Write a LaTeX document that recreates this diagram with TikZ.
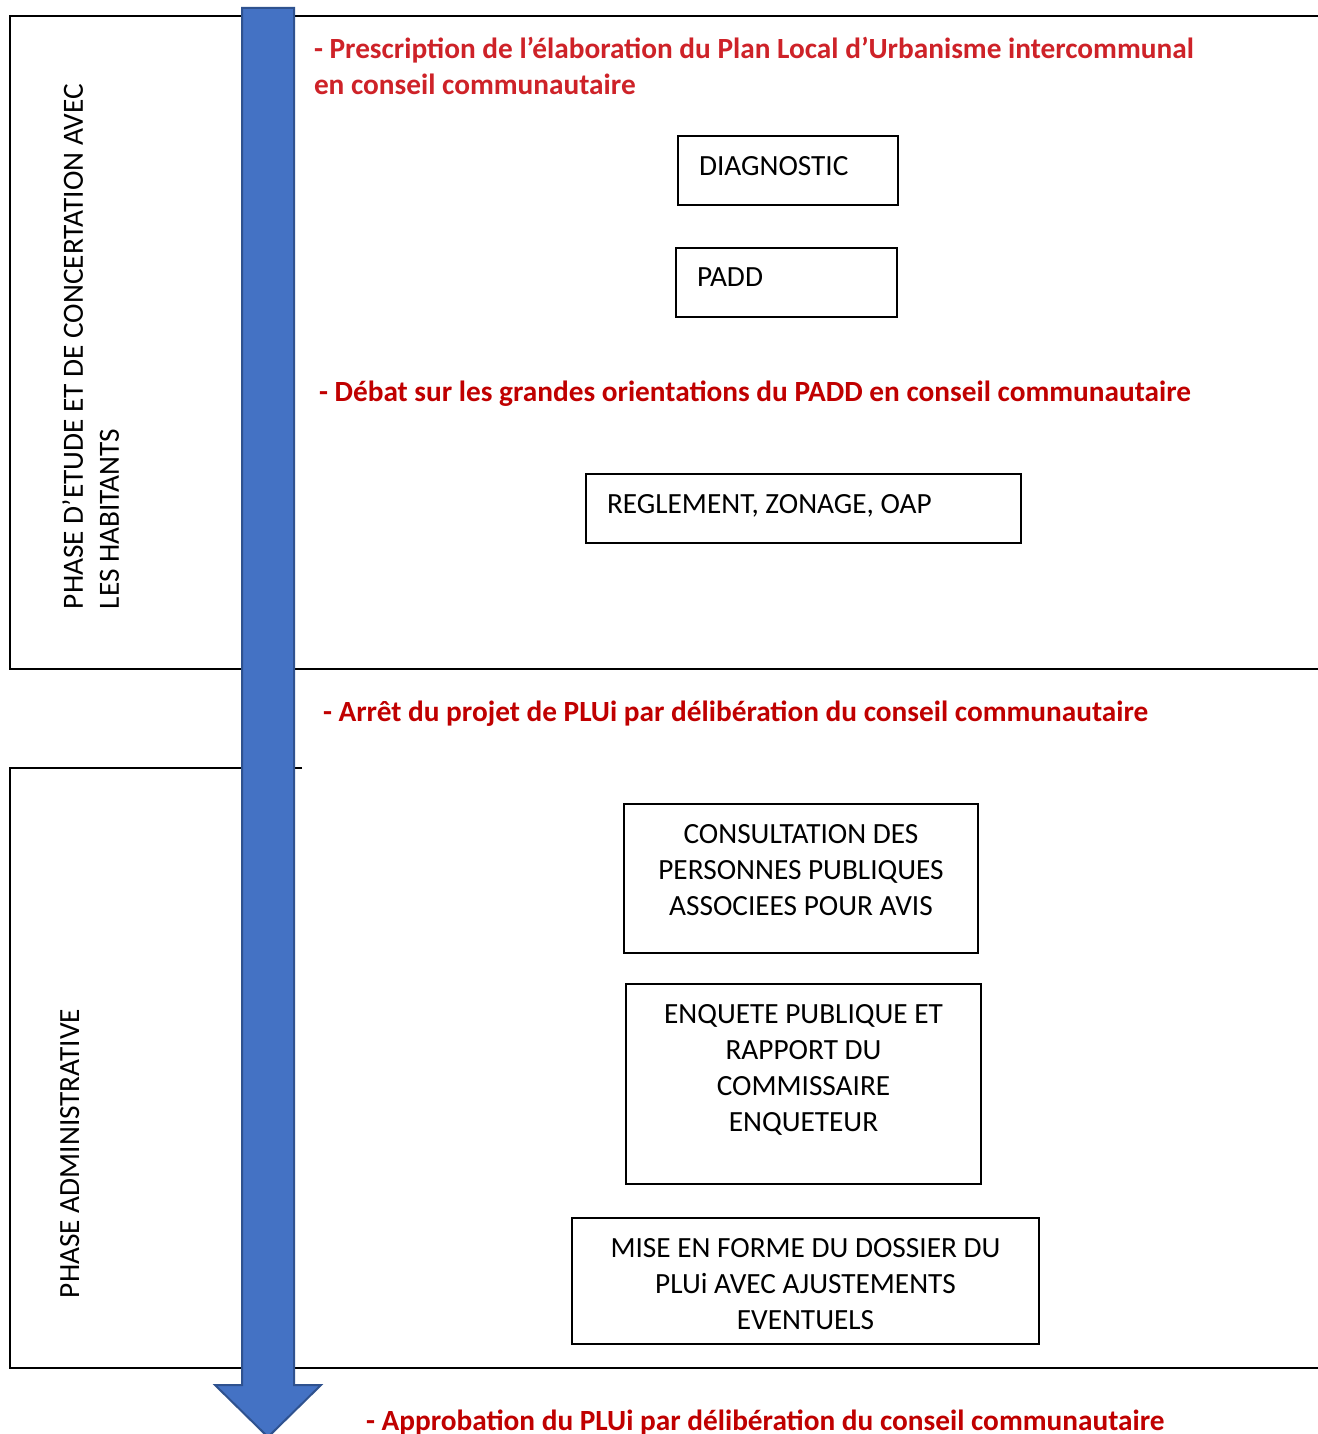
\documentclass[tikz,border=0pt]{standalone}
\usepackage{fontspec}
\setmainfont{Carlito}
\definecolor{arrowfill}{RGB}{68,114,196}
\definecolor{arrowline}{RGB}{47,82,143}
\definecolor{redA}{RGB}{206,34,40}
\definecolor{redB}{RGB}{192,0,0}
\begin{document}
\begin{tikzpicture}[x=1pt,y=-1pt,
  frame/.style={draw=black,line width=2pt},
  box/.style={draw=black,line width=2pt,outer sep=0pt,inner sep=0pt},
  txt/.style={font=\fontsize{29.3}{36}\selectfont,inner sep=0pt,outer sep=0pt,text=black},
  redtxt/.style={font=\fontsize{29.3}{36}\selectfont\bfseries,inner sep=0pt,outer sep=0pt},
  bigarrow/.style={fill=arrowfill,draw=arrowline,line width=2pt,line join=miter}
]
\useasboundingbox (0,0) rectangle (1317,1434);
\fill[white] (0,0) rectangle (1317,1434);

% phase frames
\draw[frame] (1320,16) -- (10,16) -- (10,669) -- (1320,669);
\draw[frame] (302,768) -- (10,768) -- (10,1368) -- (1320,1368);

% big arrow
\draw[bigarrow] (242,8) -- (294,8) -- (294,1385) -- (321,1385) -- (268,1437) -- (215,1385) -- (242,1385) -- cycle;

% phase labels
\node[txt,rotate=90,anchor=south west,align=left] (phase1) at (119,609)
  {PHASE D’ETUDE ET DE CONCERTATION AVEC\\LES HABITANTS};
\node[txt,rotate=90,anchor=base west] (phase2) at (79,1298) {PHASE ADMINISTRATIVE};

% red milestones
\node[redtxt,text=redA,anchor=base west,align=left] (presc) at (314,95)
  {- Prescription de l’élaboration du Plan Local d’Urbanisme intercommunal\\en conseil communautaire};
\node[redtxt,text=redB,anchor=base west] (debat) at (319,401)
  {- Débat sur les grandes orientations du PADD en conseil communautaire};
\node[redtxt,text=redB,anchor=base west] (arret) at (323,721)
  {- Arrêt du projet de PLUi par délibération du conseil communautaire};
\node[redtxt,text=redB,anchor=base west] (approb) at (366,1430)
  {- Approbation du PLUi par délibération du conseil communautaire};

% boxes
\node[box,minimum width=220pt,minimum height=69pt] (diag) at (788,170.5) {};
\node[box,minimum width=221pt,minimum height=69pt] (padd) at (786.5,282.5) {};
\node[box,minimum width=435pt,minimum height=69pt] (regl) at (803.5,508.5) {};
\node[box,minimum width=354pt,minimum height=149pt] (cons) at (801,878.5) {};
\node[box,minimum width=355pt,minimum height=200pt] (enq) at (803.5,1084) {};
\node[box,minimum width=467pt,minimum height=126pt] (mise) at (805.5,1281) {};

% box texts
\node[txt,anchor=north west] (diagT) at ([shift={(21,20)}]diag.north west) {DIAGNOSTIC};
\node[txt,anchor=north west] (paddT) at ([shift={(21,20)}]padd.north west) {PADD};
\node[txt,anchor=north west] (reglT) at ([shift={(21,20)}]regl.north west) {REGLEMENT, ZONAGE, OAP};
\node[txt,anchor=north,align=center] (consT) at ([shift={(0,20)}]cons.north)
  {CONSULTATION DES\\PERSONNES PUBLIQUES\\ASSOCIEES POUR AVIS};
\node[txt,anchor=north,align=center] (enqT) at ([shift={(0,20)}]enq.north)
  {ENQUETE PUBLIQUE ET\\RAPPORT DU\\COMMISSAIRE\\ENQUETEUR};
\node[txt,anchor=north,align=center] (miseT) at ([shift={(0,20)}]mise.north)
  {MISE EN FORME DU DOSSIER DU\\PLUi AVEC AJUSTEMENTS\\EVENTUELS};
\end{tikzpicture}
\end{document}
